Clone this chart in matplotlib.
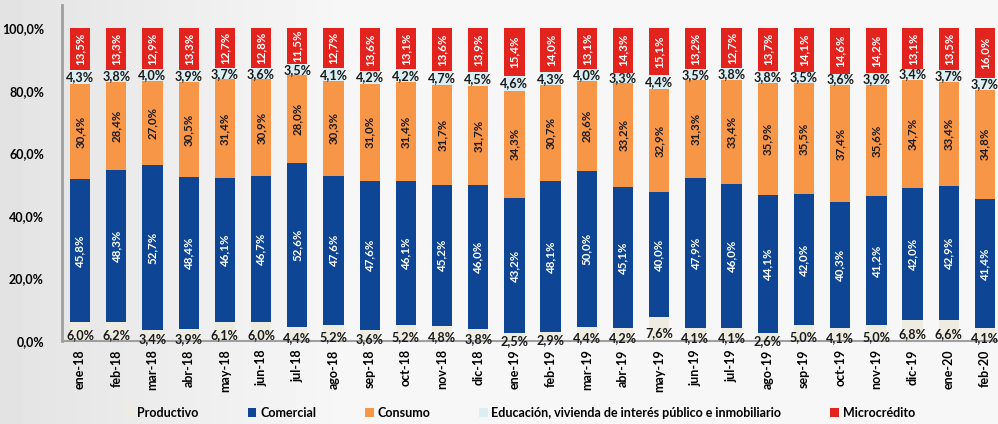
import matplotlib.pyplot as plt
import numpy as np
from matplotlib.patches import Patch

plt.rcParams['font.family'] = ['Lato', 'DejaVu Sans']
plt.rcParams['font.weight'] = 'bold'

MONTHS = ['ene-18', 'feb-18', 'mar-18', 'abr-18', 'may-18', 'jun-18', 'jul-18', 'ago-18',
          'sep-18', 'oct-18', 'nov-18', 'dic-18', 'ene-19', 'feb-19', 'mar-19', 'abr-19',
          'may-19', 'jun-19', 'jul-19', 'ago-19', 'sep-19', 'oct-19', 'nov-19', 'dic-19',
          'ene-20', 'feb-20']

productivo = [6.0, 6.2, 3.4, 3.9, 6.1, 6.0, 4.4, 5.2, 3.6, 5.2, 4.8, 3.8, 2.5,
              2.9, 4.4, 4.2, 7.6, 4.1, 4.1, 2.6, 5.0, 4.1, 5.0, 6.8, 6.6, 4.1]
comercial = [45.8, 48.3, 52.7, 48.4, 46.1, 46.7, 52.6, 47.6, 47.6, 46.1, 45.2, 46.0, 43.2,
             48.1, 50.0, 45.1, 40.0, 47.9, 46.0, 44.1, 42.0, 40.3, 41.2, 42.0, 42.9, 41.4]
consumo = [30.4, 28.4, 27.0, 30.5, 31.4, 30.9, 28.0, 30.3, 31.0, 31.4, 31.7, 31.7, 34.3,
           30.7, 28.6, 33.2, 32.9, 31.3, 33.4, 35.9, 35.5, 37.4, 35.6, 34.7, 33.4, 34.8]
educacion = [4.3, 3.8, 4.0, 3.9, 3.7, 3.6, 3.5, 4.1, 4.2, 4.2, 4.7, 4.5, 4.6,
             4.3, 4.0, 3.3, 4.4, 3.5, 3.8, 3.8, 3.5, 3.6, 3.9, 3.4, 3.7, 3.7]
microcredito = [13.5, 13.3, 12.9, 13.3, 12.7, 12.8, 11.5, 12.7, 13.6, 13.1, 13.6, 13.9, 15.4,
                14.0, 13.1, 14.3, 15.1, 13.2, 12.7, 13.7, 14.1, 14.6, 14.2, 13.1, 13.5, 16.0]

NAMES = ['Productivo', 'Comercial', 'Consumo',
         'Educación, vivienda de interés público e inmobiliario', 'Microcrédito']
COLORS = ['#EEECE1', '#0E4595', '#F79646', '#DAEEF3', '#E2231E']


def fmt(v):
    return ('%.1f%%' % v).replace('.', ',')


fig = plt.figure(figsize=(9.98, 4.24), dpi=100)

# soft grey background, darker on the left
bg = fig.add_axes([0, 0, 1, 1], zorder=-10)
grad = np.clip(np.linspace(0, 1, 256) * 3, 0, 1)
img = 0.89 + 0.075 * grad
bg.imshow(np.tile(img, (10, 1)), cmap='gray', vmin=0, vmax=1, aspect='auto', extent=[0, 1, 0, 1])
bg.axis('off')

ax = fig.add_axes([62 / 998, (424 - 341) / 424, (998 - 62) / 998, (341 - 5) / 424])
ax.set_facecolor('none')

x = np.arange(len(MONTHS))
series = [productivo, comercial, consumo, educacion, microcredito]
bottom = np.zeros(len(MONTHS))
w = 0.56
for vals, col in zip(series, COLORS):
    ax.bar(x, vals, w, bottom=bottom, color=col, edgecolor='none', zorder=2)
    bottom = bottom + np.array(vals)

fs = 8.3
for i in range(len(MONTHS)):
    b = 0
    ax.text(x[i], productivo[i] / 2 - 1.2, fmt(productivo[i]), ha='center', va='center',
            fontsize=fs + 0.8, color='#1a1a1a', zorder=5)
    b += productivo[i]
    ax.text(x[i], b + comercial[i] / 2, fmt(comercial[i]), ha='center', va='center',
            rotation=90, fontsize=fs, color='white', zorder=5)
    b += comercial[i]
    ax.text(x[i], b + consumo[i] / 2, fmt(consumo[i]), ha='center', va='center',
            rotation=90, fontsize=fs, color='#1a1a1a', zorder=5)
    b += consumo[i]
    ax.text(x[i], b + educacion[i] / 2, fmt(educacion[i]), ha='center', va='center',
            fontsize=fs + 0.8, color='#1a1a1a', zorder=5)
    b += educacion[i]
    ax.text(x[i], b + microcredito[i] / 2, fmt(microcredito[i]), ha='center', va='center',
            rotation=90, fontsize=fs, color='white', zorder=5)

ax.set_xlim(-0.5, 25.36)
ax.set_ylim(0, 107.4)
ax.set_yticks([0, 20, 40, 60, 80, 100])
ax.set_yticklabels([fmt(v) for v in [0, 20, 40, 60, 80, 100]], fontsize=9)
ax.set_xticks(x)
ax.set_xticklabels(MONTHS, rotation=90, fontsize=9)
ax.tick_params(axis='y', length=0, pad=13)
ax.tick_params(axis='x', length=0, pad=6)
for s in ['top', 'right']:
    ax.spines[s].set_visible(False)
ax.spines['left'].set_color('#a0a0a0')
ax.spines['left'].set_linewidth(2)
ax.spines['bottom'].set_color('#a0a0a0')
ax.spines['bottom'].set_linewidth(1.5)

handles = [Patch(facecolor=c, edgecolor='none') for c in COLORS]
fig.legend(handles, NAMES, loc='center', bbox_to_anchor=(0.521, 1 - 413 / 424), ncol=5,
           frameon=False, fontsize=9, handlelength=0.7, handleheight=0.7,
           handletextpad=0.3, columnspacing=3.9)

fig.savefig('out.png', dpi=100)
